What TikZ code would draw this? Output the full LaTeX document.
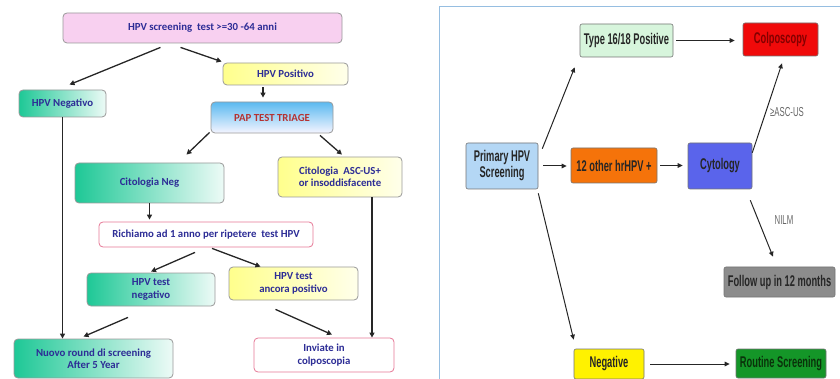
\documentclass[tikz,border=0pt]{standalone}
\usepackage{fontspec}
\setmainfont{Carlito}
\newfontfamily\narrowfont[FakeStretch=0.6, BoldFont={Liberation Sans Bold}, BoldFeatures={FakeStretch=0.6}]{Liberation Sans}
\usepackage{tikz}
\usetikzlibrary{arrows.meta,calc}
\definecolor{txtblue}{RGB}{45,45,150}
\definecolor{papred}{RGB}{180,50,50}
\definecolor{tealc}{RGB}{30,200,150}
\definecolor{framec}{RGB}{150,190,225}

\tikzset{
  lbox/.style={draw=gray!80, line width=0.8pt, rounded corners=4pt, align=center,
    text=txtblue, font=\fontsize{10.8}{12.5}\selectfont\bfseries, inner sep=1pt},
  pinkbox/.style={lbox, fill={rgb,255:red,248;green,208;blue,240}},
  yelbox/.style={lbox, left color=yellow!45, right color=yellow!8},
  tealbox/.style={lbox, left color=tealc, right color=tealc!8},
  whitebox/.style={lbox, draw={rgb,255:red,230;green,120;blue,150}, fill=white},
  rbox/.style={draw=black!55, line width=0.6pt, rounded corners=2pt, align=center,
    font=\narrowfont\bfseries\fontsize{15.5}{16}\selectfont, text=black!85, inner sep=1pt},
  arr/.style={-{Triangle[length=5pt,width=5pt]}, line width=1.3pt, black!85},
  rarr/.style={-{Triangle[length=5pt,width=4.5pt]}, line width=1pt, black!85},
  lab/.style={font=\narrowfont\fontsize{13}{14}\selectfont, text=black!60}
}

\begin{document}
\begin{tikzpicture}[x=1pt,y=-1pt]
\useasboundingbox (0,0) rectangle (840,379);

% left chart
\node[pinkbox, minimum width=279, minimum height=30] (scr) at (202.5,28) {HPV screening\ \ test >=30 -64 anni};
\node[yelbox, minimum width=125, minimum height=22] (pos) at (285.5,74) {HPV Positivo};
\node[tealbox, minimum width=87, minimum height=27] (neg) at (62.5,103.5) {HPV Negativo};
\node[lbox, minimum width=122, minimum height=31, text=papred,
  top color={rgb,255:red,90;green,185;blue,240}, bottom color=blue!4] (pap) at (272,117.5) {PAP TEST TRIAGE};
\node[tealbox, minimum width=149, minimum height=40] (cneg) at (149.5,183) {Citologia Neg};
\node[yelbox, minimum width=124, minimum height=40] (casc) at (340,177) {Citologia\ \ ASC-US+\\or insoddisfacente};
\node[whitebox, minimum width=214, minimum height=25] (rich) at (206,234.5) {Richiamo ad 1 anno per ripetere\ \ test HPV};
\node[tealbox, minimum width=128, minimum height=33] (tneg) at (151,289.5) {HPV test\\negativo};
\node[yelbox, minimum width=129, minimum height=33] (tpos) at (293.5,283.5) {HPV test\\ancora positivo};
\node[tealbox, minimum width=159, minimum height=39] (nuovo) at (93.5,358.5) {Nuovo round di screening\\After 5 Year};
\node[whitebox, minimum width=140, minimum height=34] (inv) at (324,355) {Inviate in\\colposcopia};

\draw[arr] ([xshift=-42pt,yshift=-4pt]scr.south) -- ([xshift=7pt,yshift=5pt]neg.north);
\draw[arr] ([xshift=-22pt,yshift=-4pt]scr.south) -- ([xshift=-1pt,yshift=1pt]pos.north west);
\draw[arr] ([xshift=-22.5pt,yshift=-2pt]pos.south) -- ([xshift=-9pt,yshift=4pt]pap.north);
\draw[arr] ([xshift=-1pt,yshift=1pt]pap.south west) -- ([xshift=37pt,yshift=8pt]cneg.north);
\draw[arr] ([xshift=48pt,yshift=-2pt]pap.south) -- ([xshift=2pt,yshift=2pt]casc.north);
\draw[arr] (neg.south) -- (neg.south |- nuovo.north);
\draw[arr, shorten >=2pt] (cneg.south) -- (cneg.south |- rich.north);
\draw[arr] ([xshift=32pt]casc.south) -- ([xshift=32pt]casc.south |- inv.north);
\draw[arr] ([xshift=-11pt,yshift=-5pt]rich.south) -- ([yshift=1pt]tneg.north);
\draw[arr] ([xshift=6pt,yshift=-1pt]rich.south) -- ([xshift=-33pt]tpos.north);
\draw[arr] ([xshift=-23pt,yshift=-11pt]tneg.south) -- ([xshift=-10pt,yshift=2pt]nuovo.north);
\draw[arr] ([xshift=-18pt,yshift=-9pt]tpos.south) -- ([xshift=8pt,yshift=3pt]inv.north);

% right chart
\draw[framec, line width=1pt] (439,385) -- (439,7) -- (845,7);

\node[rbox, fill={rgb,255:red,180;green,215;blue,245}, minimum width=72, minimum height=46] (prim) at (502,166) {Primary HPV\\Screening};
\node[rbox, fill={rgb,255:red,215;green,245;blue,220}, minimum width=93, minimum height=33] (type) at (626.5,40.5) {Type 16/18 Positive};
\node[rbox, fill={rgb,255:red,240;green,10;blue,10}, text={rgb,255:red,130;green,0;blue,0}, minimum width=75, minimum height=33] (colp) at (780.5,39.5) {Colposcopy};
\node[rbox, fill={rgb,255:red,245;green,115;blue,10}, minimum width=86, minimum height=35] (other) at (614,165.5) {12 other hrHPV +};
\node[rbox, fill={rgb,255:red,90;green,100;blue,235}, minimum width=64, minimum height=46] (cyto) at (720,166) {Cytology};
\node[rbox, fill=black!45, minimum width=111, minimum height=30] (foll) at (779.5,282) {Follow up in 12 months};
\node[rbox, fill=yellow, minimum width=70, minimum height=30] (negr) at (609,364) {Negative};
\node[rbox, fill={rgb,255:red,20;green,150;blue,40}, text={rgb,255:red,10;green,50;blue,10}, minimum width=90, minimum height=29] (rout) at (781,363.5) {Routine Screening};

\draw[rarr] ([xshift=4pt,yshift=-6pt]prim.north east) -- ([xshift=-5pt,yshift=-10pt]type.south west);
\draw[rarr, shorten <=3pt, shorten >=8pt] (type.east) -- (type.east -| colp.west);
\draw[rarr, shorten <=5pt, shorten >=4pt] (prim.east) -- (prim.east -| other.west);
\draw[rarr, shorten <=3pt, shorten >=5pt] (other.east) -- (other.east -| cyto.west);
\draw[rarr] ([yshift=-10pt]cyto.north east) -- ([xshift=1.5pt,yshift=-7pt]colp.south);
\draw[rarr] ([xshift=-2pt,yshift=-11pt]cyto.south east) -- ([xshift=-6.5pt,yshift=10pt]foll.north);
\draw[rarr] ([yshift=-4pt]prim.south east) -- ([yshift=9pt]negr.north west);
\draw[rarr, shorten <=6pt, shorten >=6pt] (negr.east) -- (negr.east -| rout.west);

\node[lab] (asc) at (787,112) {≥ASC-US};
\node[lab] (nilm) at (784,220) {NILM};
\end{tikzpicture}
\end{document}
